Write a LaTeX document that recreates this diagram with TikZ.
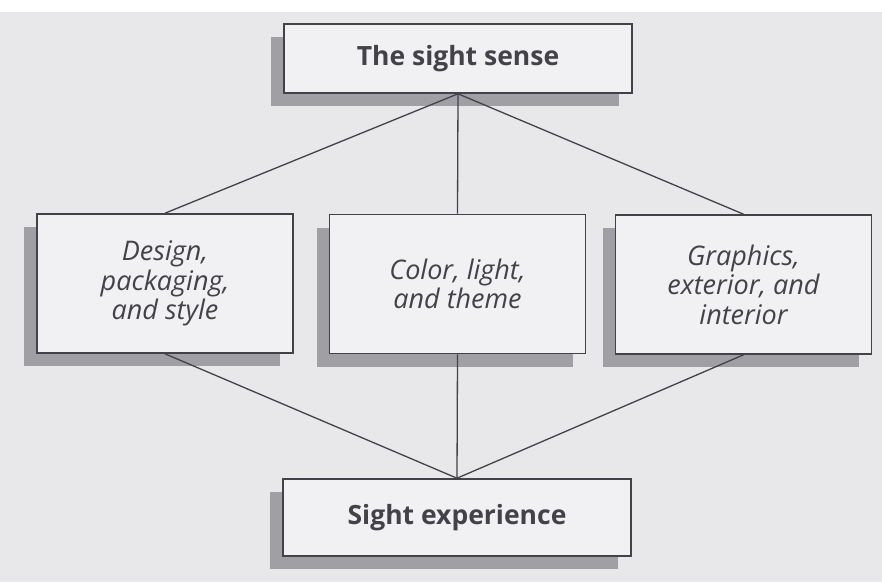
\documentclass[tikz,border=0pt]{standalone}
\usepackage{fontspec}
\setmainfont{Open Sans}
\usetikzlibrary{shadows}
\definecolor{pagegray}{RGB}{232,232,235}
\definecolor{boxfill}{RGB}{241,241,243}
\definecolor{shadowgray}{RGB}{160,159,164}
\definecolor{inkgray}{RGB}{66,66,72}
\tikzset{sensebox/.style = {draw=inkgray, line width=1.6pt, fill=boxfill,
                            text=inkgray, align=center, inner sep=0pt,
                            drop shadow={shadow xshift=-13pt, shadow yshift=-13pt,
                                         fill=shadowgray, opacity=1}}}
\tikzset{titlebox/.style = {sensebox, minimum width=348pt,
                            font=\fontsize{26.5}{30}\selectfont\bfseries}}
\tikzset{aspectbox/.style = {sensebox, minimum width=256pt, minimum height=139pt,
                             font=\fontsize{27}{29.5}\selectfont\itshape}}
\tikzset{link/.style = {draw=inkgray, line width=1.3pt}}

\begin{document}
\begin{tikzpicture}[x=1pt,y=-1pt]
	\fill [white] (0,0) rectangle (882,582);
	\fill [pagegray] (0,12) rectangle (882,582);
	\node [titlebox, minimum height=69pt] (sense) at (458,58.5) {The sight sense};
	\node [aspectbox] (design) at (165,283.5) {Design,\\packaging,\\and style};
	\node [aspectbox] (color) at (457.5,284) {Color, light,\\and theme};
	\node [aspectbox] (graphics) at (743.5,284.5) {Graphics,\\exterior, and\\interior};
	\node [titlebox, minimum height=77pt] (experience) at (457,517.5) {Sight experience};
	\draw [link] (sense.south) -- (design.north);
	\draw [link] (sense.south) -- (color.north);
	\draw [link] (sense.south) -- (graphics.north);
	\draw [link] (design.south) -- (experience.north);
	\draw [link] (color.south) -- (experience.north);
	\draw [link] (graphics.south) -- (experience.north);
	\useasboundingbox (0,0) rectangle (882,582);
\end{tikzpicture}
\end{document}
